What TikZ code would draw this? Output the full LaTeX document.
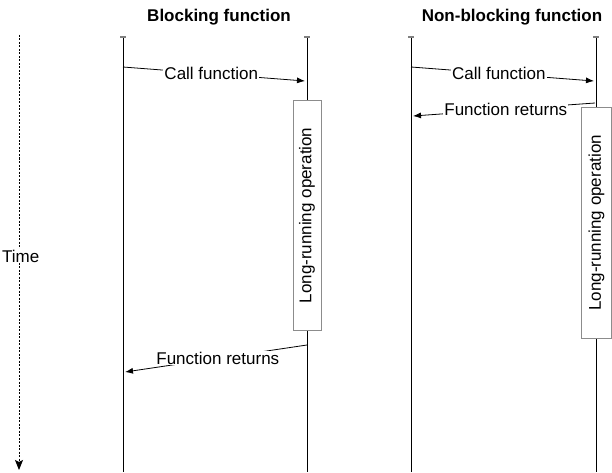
\documentclass[tikz,border=0pt]{standalone}
\usepackage{fontspec}
\setmainfont{Liberation Sans}
\usetikzlibrary{arrows.meta}
\begin{document}
\begin{tikzpicture}[x=1pt,y=-1pt,
  every node/.style={font=\fontsize{17}{20}\selectfont, inner sep=1pt},
  title/.style={font=\fontsize{17}{20}\selectfont\bfseries},
  lifeline/.style={draw=black, line width=0.9pt},
  tick/.style={draw=gray, line width=1.2pt},
  opbox/.style={draw=gray!90, fill=white, line width=0.8pt, minimum width=28pt, inner sep=0pt},
  msg/.style={draw=black, line width=0.8pt, -{Latex[length=8pt,width=6pt]}},
  lbl/.style={fill=white, inner sep=1pt},
  timeline/.style={draw=black, line width=1pt, dash pattern=on 2pt off 1.5pt, -{Stealth[length=10pt,width=8pt,inset=2pt]}}
]
\useasboundingbox (0,0) rectangle (612,473);
% titles
\node[title] (t1) at (219,17) {Blocking function};
\node[title] (t2) at (512,17) {Non-blocking function};
% lifeline coordinates
\coordinate (a1) at (123,37); \coordinate (a2) at (123,472);
\coordinate (b1) at (307,37); \coordinate (b2) at (307,472);
\coordinate (c1) at (411,37); \coordinate (c2) at (411,472);
\coordinate (d1) at (596,37); \coordinate (d2) at (596,472);
\draw[lifeline] (a1) -- (a2);
\draw[lifeline] (b1) -- (b2);
\draw[lifeline] (c1) -- (c2);
\draw[lifeline] (d1) -- (d2);
\foreach \p in {a1,b1,c1,d1} \draw[tick] ([xshift=-3pt]\p) -- ([xshift=3pt]\p);
% operation boxes
\node[opbox, minimum height=230pt, anchor=north] (op1) at (307,100) {};
\node[rotate=90] (op1t) at (op1.center) {Long-running operation};
\node[opbox, minimum height=231pt, minimum width=30pt, anchor=north west] (op2) at (581,107) {};
\node[rotate=90] (op2t) at (op2.center) {Long-running operation};
% time axis
\coordinate (ts) at (19,35); \coordinate (te) at (19,470);
\draw[timeline] (ts) -- (te);
\node[lbl, anchor=west] (time) at (1,256) {Time};
% blocking messages
\coordinate (m1s) at (123,67); \coordinate (m1e) at (305,81);
\draw[msg] (m1s) -- (m1e) node[lbl, pos=0.485] (m1l) {Call function};
\coordinate (m2s) at (307,345); \coordinate (m2e) at (125,372);
\draw[msg] (m2s) -- (m2e) node[lbl, pos=0.49] (m2l) {Function returns};
% non-blocking messages
\coordinate (m3s) at (411,67); \coordinate (m3e) at (594,81);
\draw[msg] (m3s) -- (m3e) node[lbl, pos=0.48] (m3l) {Call function};
\coordinate (m4s) at (595,103); \coordinate (m4e) at (413,116);
\draw[msg] (m4s) -- (m4e) node[lbl, pos=0.49] (m4l) {Function returns};
\end{tikzpicture}
\end{document}
